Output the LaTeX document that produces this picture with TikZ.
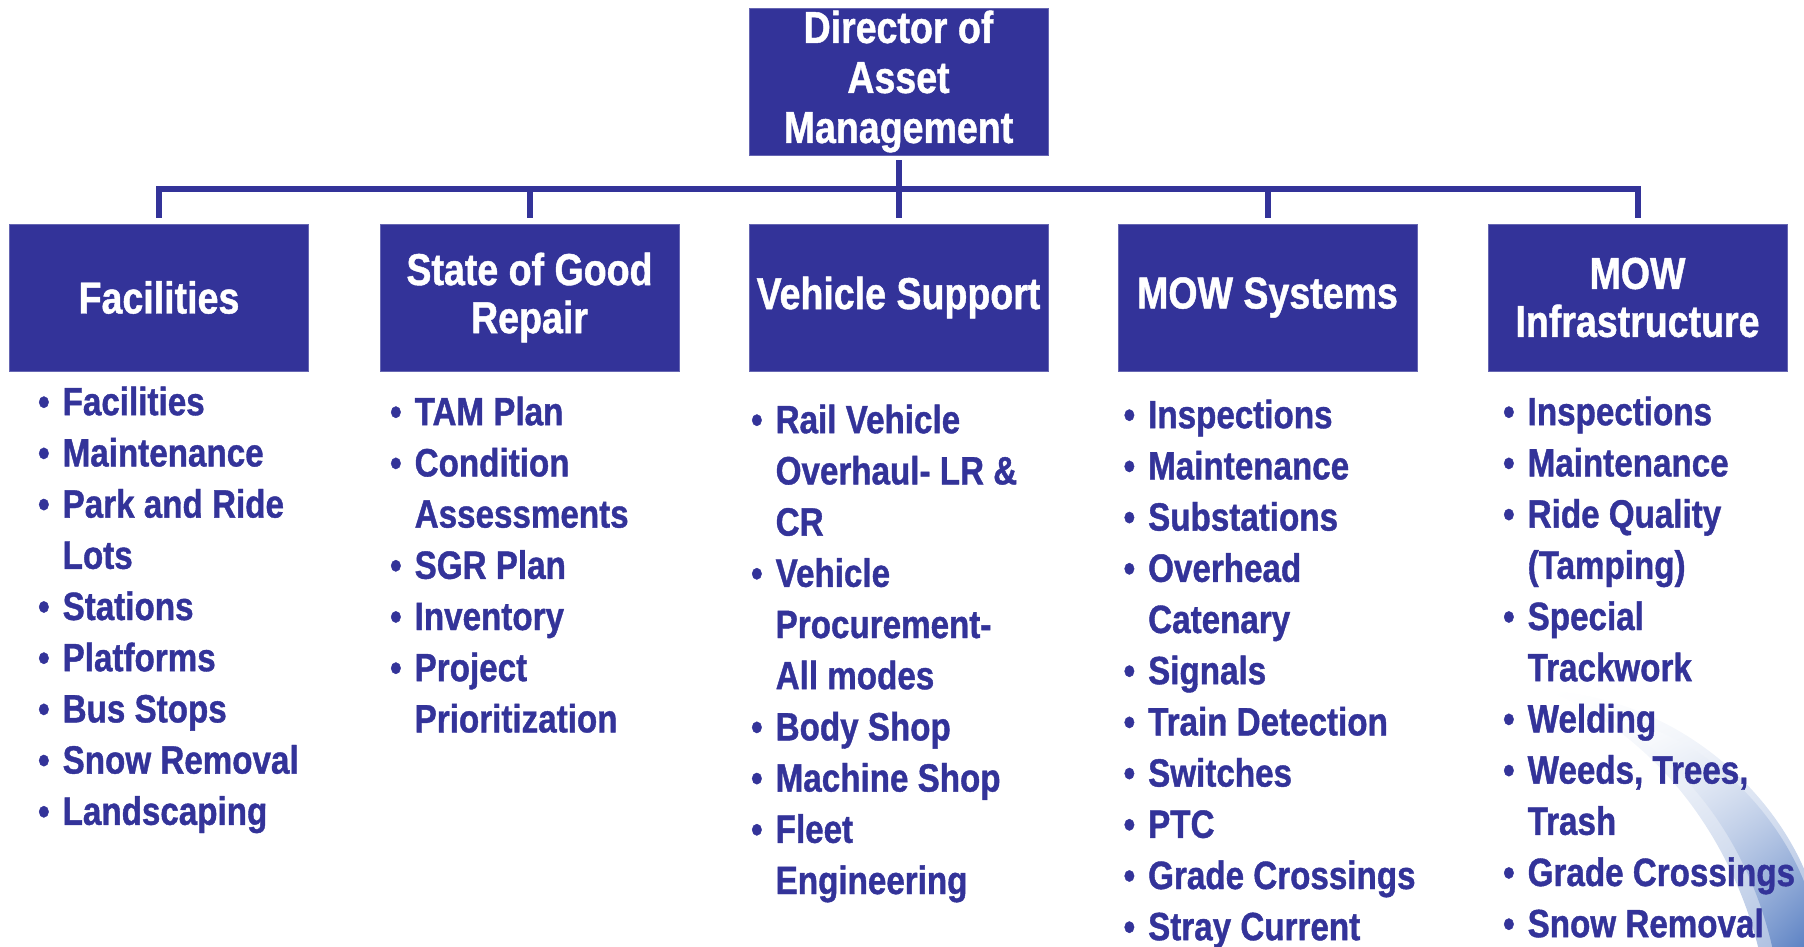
\documentclass[tikz,border=0pt]{standalone}
\usepackage{fontspec}
\setmainfont[FakeStretch=0.84,FakeBold=1]{Liberation Sans}
\usetikzlibrary{calc,shadings}
\definecolor{navy}{RGB}{51,51,153}
\definecolor{swoosh}{RGB}{82,122,192}
% bullet hung to the left of an item
\newcommand\itm{\llap{\textbullet\kern13pt}}
\newcommand\firstline{\rule{0pt}{40pt}}
\begin{document}
\begin{tikzpicture}[x=1pt,y=-1pt,
  box/.style={draw=navy!75, line width=0.8pt, fill=navy, text=white, inner sep=0pt,
    minimum width=299pt, minimum height=147pt, align=center,
    font=\fontsize{44.7}{48}\selectfont\bfseries},
  items/.style={anchor=north west, inner sep=0pt, align=left, text=navy,
    font=\fontsize{39.5}{51.2}\selectfont\bfseries},
  conn/.style={draw=navy, line width=6pt, line join=miter, line cap=butt}]
\useasboundingbox (0,0) rectangle (1804,947);

% soft globe edge in the lower right corner
\begin{scope}
\clip (0,0) rectangle (1804,947);
\shade[upper left=white, upper right=white!96!swoosh, lower left=white!94!swoosh, lower right=white!45!swoosh]
  (1545,690) .. controls (1690,700) and (1785,805) .. (1812,890) -- (1812,955)
  -- (1760,955) .. controls (1735,845) and (1660,735) .. cycle;
\shade[upper left=white, upper right=white!93!swoosh, lower left=white!88!swoosh, lower right=swoosh]
  (1600,715) .. controls (1710,730) and (1790,825) .. (1812,905) -- (1812,955)
  -- (1774,955) .. controls (1752,850) and (1690,760) .. cycle;
\end{scope}

% boxes
\node[box, font=\fontsize{44.7}{50}\selectfont\bfseries] (dir) at (898.5,81.5) {Director of\\Asset\\Management};
\node[box] (fac)  at (159,297.5)    {Facilities};
\node[box] (sgr)  at (529.5,297.5)  {State of Good\\Repair};
\node[box] (veh)  at (898.5,297.5)  {Vehicle Support};
\node[box] (mows) at (1267.5,297.5) {MOW Systems};
\node[box] (mowi) at (1637.5,297.5) {MOW\\Infrastructure};

% connectors
\coordinate (bus) at (0,189);
\draw[conn] ($(fac.north)+(0,-6)$) -- (fac.north |- bus) -- (mowi.north |- bus) -- ($(mowi.north)+(0,-6)$);
\draw[conn] ($(dir.south)+(0,5)$) -- ($(veh.north)+(0,-6)$);
\draw[conn] (sgr.north |- bus) -- ($(sgr.north)+(0,-6)$);
\draw[conn] (mows.north |- bus) -- ($(mows.north)+(0,-6)$);

% item lists
\node[items] (lfac) at (62.5,375) {\firstline\itm Facilities\\ \itm Maintenance\\ \itm Park and Ride\\ Lots\\ \itm Stations\\ \itm Platforms\\ \itm Bus Stops\\ \itm Snow Removal\\ \itm Landscaping};
\node[items] (lsgr) at (414.5,385) {\firstline\itm TAM Plan\\ \itm Condition\\ Assessments\\ \itm SGR Plan\\ \itm Inventory\\ \itm Project\\ Prioritization};
\node[items] (lveh) at (775.5,393) {\firstline\itm Rail Vehicle\\ Overhaul- LR \&\\ CR\\ \itm Vehicle\\ Procurement-\\ All modes\\ \itm Body Shop\\ \itm Machine Shop\\ \itm Fleet\\ Engineering};
\node[items] (lmows) at (1148,388) {\firstline\itm Inspections\\ \itm Maintenance\\ \itm Substations\\ \itm Overhead\\ Catenary\\ \itm Signals\\ \itm Train Detection\\ \itm Switches\\ \itm PTC\\ \itm Grade Crossings\\ \itm Stray Current};
\node[items] (lmowi) at (1527.5,385) {\firstline\itm Inspections\\ \itm Maintenance\\ \itm Ride Quality\\ (Tamping)\\ \itm Special\\ Trackwork\\ \itm Welding\\ \itm Weeds, Trees,\\ Trash\\ \itm Grade Crossings\\ \itm Snow Removal};
\end{tikzpicture}
\end{document}
